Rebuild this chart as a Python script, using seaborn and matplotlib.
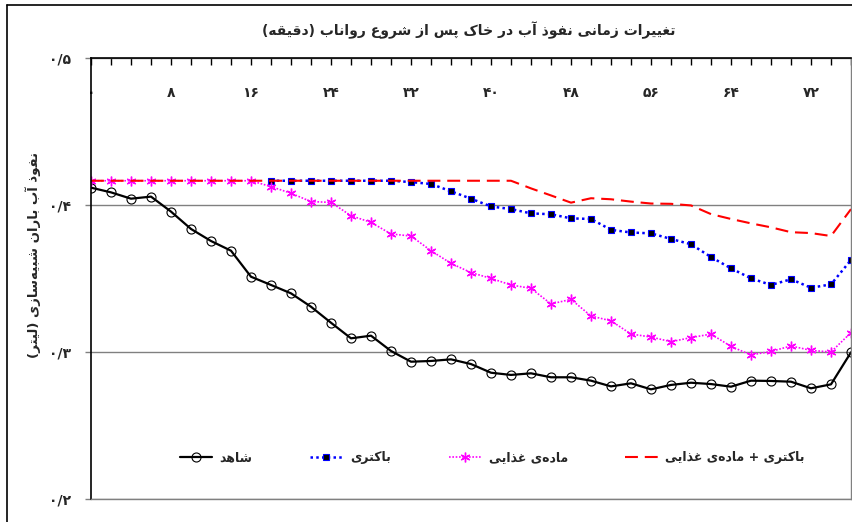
"""
Infiltration of simulated rain over time after runoff start
"""

import numpy as np
import pandas as pd
import matplotlib
matplotlib.use("Agg")
import matplotlib.pyplot as plt
from matplotlib.ticker import MultipleLocator, FuncFormatter
from matplotlib.lines import Line2D
import seaborn as sns

# minutes after runoff start
minutes = list(range(0, 78, 2))

control = [0.4118, 0.4086, 0.4043, 0.4057, 0.3955, 0.3837, 0.3755, 0.3689, 0.3512, 0.3456,
           0.3399, 0.3308, 0.3199, 0.3093, 0.3111, 0.3007, 0.2934, 0.2939, 0.2950, 0.2918,
           0.2859, 0.2844, 0.2855, 0.2828, 0.2828, 0.2805, 0.2766, 0.2787, 0.2746, 0.2776,
           0.2791, 0.2782, 0.2764, 0.2805, 0.2803, 0.2798, 0.2753, 0.2780, 0.2998]

bacteria = [np.nan] * 9 + [0.4165] * 7 + [
    0.4156, 0.4143, 0.4093, 0.4043, 0.3990, 0.3972, 0.3943, 0.3937, 0.3909, 0.3905,
    0.3831, 0.3813, 0.3807, 0.3769, 0.3733, 0.3646, 0.3569, 0.3501, 0.3456, 0.3495,
    0.3437, 0.3460, 0.3626]

nutrient = [0.4165] * 9 + [
    0.4125, 0.4080, 0.4023, 0.4018, 0.3927, 0.3882, 0.3803, 0.3789, 0.3689, 0.3603,
    0.3540, 0.3501, 0.3456, 0.3433, 0.3327, 0.3358, 0.3245, 0.3212, 0.3122, 0.3102,
    0.3070, 0.3098, 0.3122, 0.3038, 0.2980, 0.3004, 0.3041, 0.3011, 0.3000, 0.3132]

bac_nutrient = [0.4165] * 22 + [
    0.4113, 0.4065, 0.4016, 0.4046, 0.4039, 0.4023, 0.4010, 0.4008, 0.3997, 0.3938,
    0.3905, 0.3875, 0.3848, 0.3815, 0.3809, 0.3789, 0.3972]

labels = ['شاهد', 'باکتری', 'ماده\u200cی غذایی', 'باکتری + ماده\u200cی غذایی']
title = 'تغییرات زمانی نفوذ آب در خاک پس از شروع رواناب (دقیقه)'
ylabel = 'نفوذ آب باران شبیه\u200cسازی (لیتر)'

# presentation forms: isolated, final, initial, medial
FORMS = {
    'ا': ('\uFE8D', '\uFE8E', None, None),
    'آ': ('\uFE81', '\uFE82', None, None),
    'ب': ('\uFE8F', '\uFE90', '\uFE91', '\uFE92'),
    'پ': ('\uFB56', '\uFB57', '\uFB58', '\uFB59'),
    'ت': ('\uFE95', '\uFE96', '\uFE97', '\uFE98'),
    'خ': ('\uFEA5', '\uFEA6', '\uFEA7', '\uFEA8'),
    'د': ('\uFEA9', '\uFEAA', None, None),
    'ذ': ('\uFEAB', '\uFEAC', None, None),
    'ر': ('\uFEAD', '\uFEAE', None, None),
    'ز': ('\uFEAF', '\uFEB0', None, None),
    'س': ('\uFEB1', '\uFEB2', '\uFEB3', '\uFEB4'),
    'ش': ('\uFEB5', '\uFEB6', '\uFEB7', '\uFEB8'),
    'ع': ('\uFEC9', '\uFECA', '\uFECB', '\uFECC'),
    'غ': ('\uFECD', '\uFECE', '\uFECF', '\uFED0'),
    'ف': ('\uFED1', '\uFED2', '\uFED3', '\uFED4'),
    'ق': ('\uFED5', '\uFED6', '\uFED7', '\uFED8'),
    'ک': ('\uFB8E', '\uFB8F', '\uFB90', '\uFB91'),
    'ل': ('\uFEDD', '\uFEDE', '\uFEDF', '\uFEE0'),
    'م': ('\uFEE1', '\uFEE2', '\uFEE3', '\uFEE4'),
    'ن': ('\uFEE5', '\uFEE6', '\uFEE7', '\uFEE8'),
    'ه': ('\uFEE9', '\uFEEA', '\uFEEB', '\uFEEC'),
    'و': ('\uFEED', '\uFEEE', None, None),
    'ی': ('\uFBFC', '\uFBFD', '\uFBFE', '\uFBFF'),
}


def shape(text):
    """Join Persian letters and put them in visual (right-to-left) order."""
    out = []
    for i, c in enumerate(text):
        if c not in FORMS:
            out.append(c)
            continue
        prev = text[i - 1] if i > 0 else None
        nxt = text[i + 1] if i + 1 < len(text) else None
        join_prev = prev in FORMS and FORMS[prev][2] is not None
        join_next = FORMS[c][2] is not None and nxt in FORMS
        iso, fin, ini, med = FORMS[c]
        if join_prev and join_next:
            out.append(med)
        elif join_prev:
            out.append(fin)
        elif join_next:
            out.append(ini)
        else:
            out.append(iso)
    s = ''.join(ch for ch in out if ch != '\u200c')
    mirror = {'(': ')', ')': '('}
    return ''.join(mirror.get(ch, ch) for ch in reversed(s))


FA_DIGITS = str.maketrans('0123456789', '۰۱۲۳۴۵۶۷۸۹')

sns.set_style("white")
plt.rcParams['font.family'] = ['DejaVu Sans']
plt.rcParams['font.weight'] = 'bold'

df = pd.DataFrame({'minute': minutes, 'control': control, 'bacteria': bacteria,
                   'nutrient': nutrient, 'bac_nutrient': bac_nutrient})

fig = plt.figure(figsize=(8.52, 5.22), dpi=100)
ax = fig.add_axes([91 / 852, 1 - 499 / 522, 760 / 852, 441 / 522])

d = df.dropna(subset=['control'])
sns.lineplot(data=d, x='minute', y='control', ax=ax, color='black', lw=1.6,
             marker='o', markersize=6.5, markerfacecolor='none', markeredgecolor='black',
             markeredgewidth=0.8, label=shape(labels[0]))
d = df.dropna(subset=['bacteria'])
sns.lineplot(data=d, x='minute', y='bacteria', ax=ax, color='#0000FF', lw=1.8,
             linestyle=(0, (1, 1.3)), marker='s', markersize=5, markerfacecolor='black',
             markeredgecolor='#0000FF', markeredgewidth=0.8, label=shape(labels[1]))
d = df.dropna(subset=['nutrient'])
sns.lineplot(data=d, x='minute', y='nutrient', ax=ax, color='#FF00FF', lw=1.2,
             linestyle=(0, (1, 1)), marker=(6, 2, 0), markersize=7,
             markeredgecolor='#FF00FF', markeredgewidth=1.0, label=shape(labels[2]))
d = df.dropna(subset=['bac_nutrient'])
sns.lineplot(data=d, x='minute', y='bac_nutrient', ax=ax, color='#FF0000', lw=1.5,
             linestyle=(0, (6.2, 3.3)), label=shape(labels[3]))

ax.set_xlim(0, 76)
ax.set_ylim(0.2, 0.5)

# x axis on top, labels inside the plot
ax.xaxis.set_major_locator(MultipleLocator(8))
ax.xaxis.set_minor_locator(MultipleLocator(2))
ax.xaxis.set_major_formatter(FuncFormatter(lambda v, p: str(int(round(v))).translate(FA_DIGITS)))
ax.tick_params(axis='x', which='both', top=True, bottom=False, labeltop=True,
               labelbottom=False, direction='in', length=5, width=1, color='black')
ax.tick_params(axis='x', which='major', pad=-30, labelsize=10)
ax.set_xlabel('')

ax.yaxis.set_major_locator(MultipleLocator(0.1))
ax.yaxis.set_major_formatter(FuncFormatter(
    lambda v, p: f'{v:.1f}'.replace('.', '/').translate(FA_DIGITS)))
ax.tick_params(axis='y', left=True, direction='out', length=4.5, width=1,
               color='#808080', pad=10, labelsize=10)
ax.set_ylabel(shape(ylabel), fontsize=9.5, fontweight='bold')
ax.yaxis.set_label_coords(-0.066, 0.553)

ax.grid(axis='y', color='#808080', lw=1)
ax.grid(axis='x', visible=False)
for side in ['top', 'left']:
    ax.spines[side].set_color('black')
    ax.spines[side].set_linewidth(1.2)
for side in ['bottom', 'right']:
    ax.spines[side].set_color('#808080')
    ax.spines[side].set_linewidth(1)

ax.legend(loc='center', bbox_to_anchor=(0.528, 0.093), ncol=4, frameon=False,
          fontsize=9, handlelength=2.6, columnspacing=4.6, handletextpad=0.6)

fig.text(469 / 852, 1 - 30 / 522, shape(title), ha='center', va='center',
         fontsize=10, fontweight='bold')

# outer frame (only top and left edges are inside the picture)
fig.add_artist(Line2D([7 / 852, 1.0], [1 - 5 / 522, 1 - 5 / 522], color='black', lw=1.2))
fig.add_artist(Line2D([7 / 852, 7 / 852], [0.0, 1 - 5 / 522], color='black', lw=1.2))

plt.savefig('out.png', dpi=100)
